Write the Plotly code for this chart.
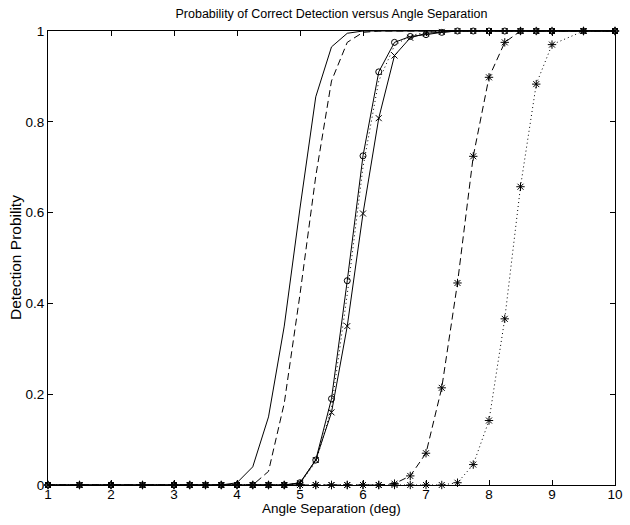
import plotly.graph_objects as go

angle = [1, 1.5, 2, 2.5, 3, 3.25, 3.5, 3.75, 4, 4.25, 4.5, 4.75, 5, 5.25, 5.5, 5.75,
         6, 6.25, 6.5, 6.75, 7, 7.25, 7.5, 7.75, 8, 8.25, 8.5, 8.75, 9, 9.5, 10]

solid_plain = [0, 0, 0, 0, 0, 0, 0, 0, 0.005, 0.04, 0.15, 0.35, 0.61, 0.855, 0.965, 0.995,
               1, 1, 1, 1, 1, 1, 1, 1, 1, 1, 1, 1, 1, 1, 1]
dashed_plain = [0, 0, 0, 0, 0, 0, 0, 0, 0, 0, 0.03, 0.18, 0.42, 0.68, 0.89, 0.975,
                0.997, 1, 1, 1, 1, 1, 1, 1, 1, 1, 1, 1, 1, 1, 1]
circle_solid = [0, 0, 0, 0, 0, 0, 0, 0, 0, 0, 0, 0, 0.005, 0.055, 0.19, 0.45,
                0.725, 0.91, 0.975, 0.988, 0.992, 0.997, 1, 1, 1, 1, 1, 1, 1, 1, 1]
dotted_plain = [0, 0, 0, 0, 0, 0, 0, 0, 0, 0, 0, 0, 0.004, 0.05, 0.17, 0.42,
                0.70, 0.89, 0.968, 0.99, 0.997, 1, 1, 1, 1, 1, 1, 1, 1, 1, 1]
cross_solid = [0, 0, 0, 0, 0, 0, 0, 0, 0, 0, 0, 0, 0.004, 0.055, 0.16, 0.35,
               0.598, 0.808, 0.946, 0.985, 0.995, 0.998, 1, 1, 1, 1, 1, 1, 1, 1, 1]
star_dashed = [0, 0, 0, 0, 0, 0, 0, 0, 0, 0, 0, 0, 0, 0, 0, 0,
               0, 0, 0.003, 0.02, 0.07, 0.214, 0.445, 0.724, 0.898, 0.975, 1, 1, 1, 1, 1]
star_dotted = [0, 0, 0, 0, 0, 0, 0, 0, 0, 0, 0, 0, 0, 0, 0, 0,
               0, 0, 0, 0, 0, 0, 0.005, 0.045, 0.142, 0.366, 0.657, 0.883, 0.97, 1, 1]

x_ticks = [1, 2, 3, 4, 5, 6, 7, 8, 9, 10]
y_ticks = [0, 0.2, 0.4, 0.6, 0.8, 1]
y_tick_text = ["0", "0.2", "0.4", "0.6", "0.8", "1"]

title_text = "Probability of Correct Detection versus Angle Separation"
x_label = "Angle Separation (deg)"
y_label = "Detection Probility"

FONT = "Liberation Sans, Arial, Helvetica, sans-serif"
BLACK = "#000000"

series = [
    (solid_plain, "solid", None),
    (dashed_plain, "7px,4px", None),
    (circle_solid, "solid", "circle-open"),
    (dotted_plain, "1px,3px", None),
    (cross_solid, "solid", "x-thin-open"),
    (star_dashed, "7px,4px", "asterisk-open"),
    (star_dotted, "1px,3px", "asterisk-open"),
]

fig = go.Figure()
for ys, dash, sym in series:
    mode = "lines+markers" if sym else "lines"
    kw = {}
    if sym:
        size = 7 if sym == "asterisk-open" else 6
        kw["marker"] = dict(symbol=sym, size=size, color=BLACK,
                            line=dict(color=BLACK, width=1))
    fig.add_trace(go.Scatter(x=angle, y=ys, mode=mode, cliponaxis=False,
                             line=dict(color=BLACK, width=1, dash=dash),
                             showlegend=False, hoverinfo="skip", **kw))

axis_common = dict(showline=True, linecolor=BLACK, linewidth=1, mirror="ticks",
                   ticks="inside", ticklen=5, tickwidth=1, tickcolor=BLACK,
                   showgrid=False, zeroline=False, ticklabeloverflow="allow",
                   tickfont=dict(family=FONT, size=13.5, color=BLACK))

fig.update_layout(
    width=630, height=525,
    margin=dict(l=48, r=7, t=31, b=40),
    paper_bgcolor="white", plot_bgcolor="white",
    font=dict(family=FONT, size=13, color=BLACK),
    hovermode=False,
    title=dict(text=title_text, x=0.5, xref="paper", y=1 - 14 / 525,
               yref="container", yanchor="middle", xanchor="center",
               font=dict(family=FONT, size=12.5, color=BLACK)),
    xaxis=dict(range=[1, 10], tickvals=x_ticks, ticktext=[str(v) for v in x_ticks],
               ticklabelstandoff=-3, **axis_common),
    yaxis=dict(range=[0, 1], tickvals=y_ticks, ticktext=y_tick_text, **axis_common),
    annotations=[
        dict(text=x_label, xref="paper", yref="paper", x=0.5, y=0,
             xanchor="center", yanchor="middle", yshift=-23, showarrow=False,
             font=dict(family=FONT, size=13.5, color=BLACK)),
        dict(text=y_label, xref="paper", yref="paper", x=0, y=0.5,
             xanchor="center", yanchor="middle", xshift=-33, textangle=-90,
             showarrow=False, font=dict(family=FONT, size=15.5, color=BLACK)),
    ],
)

fig.write_html("out.html", config={"displayModeBar": False, "staticPlot": True},
               post_script="document.body.style.margin='0';document.body.style.overflow='hidden';")
